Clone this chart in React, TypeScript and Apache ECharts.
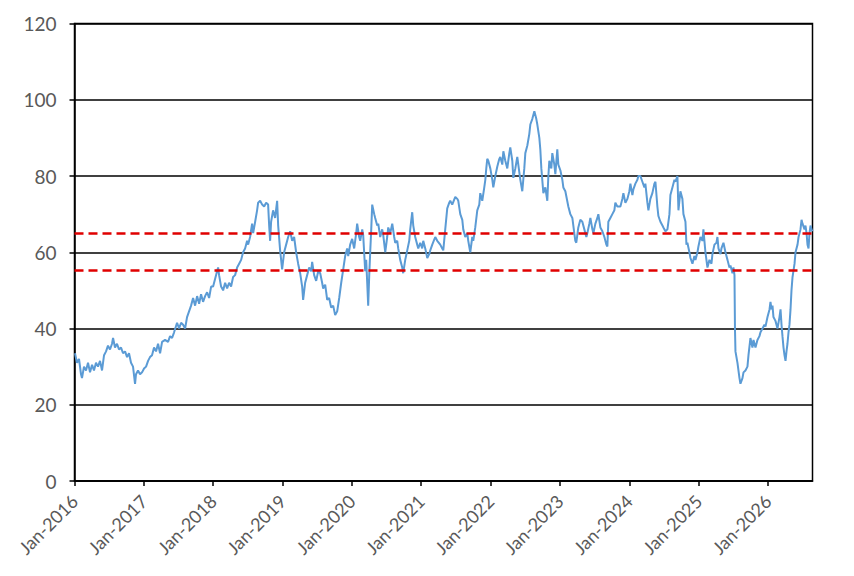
import React, { useEffect, useRef } from "react";
import * as echarts from "echarts";

// Decimal years (x) and index values (y)
const dates = [
  2016.007, 2016.036, 2016.065, 2016.094, 2016.108, 2016.137, 2016.166, 2016.195, 2016.224, 2016.253,
  2016.281, 2016.310, 2016.339, 2016.368, 2016.397, 2016.426, 2016.455, 2016.483, 2016.512, 2016.541,
  2016.556, 2016.584, 2016.613, 2016.642, 2016.671, 2016.700, 2016.729, 2016.758, 2016.786, 2016.815,
  2016.844, 2016.873, 2016.887, 2016.916, 2016.945, 2016.974,
  2017.003, 2017.032, 2017.061, 2017.089, 2017.118, 2017.147, 2017.176, 2017.205, 2017.234, 2017.263,
  2017.306, 2017.349, 2017.378, 2017.407, 2017.436, 2017.479, 2017.508, 2017.537, 2017.566, 2017.595,
  2017.623, 2017.652, 2017.681, 2017.710, 2017.739, 2017.768, 2017.797, 2017.825, 2017.854, 2017.883,
  2017.912, 2017.941, 2017.970, 2017.999,
  2018.027, 2018.056, 2018.071, 2018.085, 2018.114, 2018.143, 2018.172, 2018.201, 2018.229, 2018.258,
  2018.287, 2018.316, 2018.345, 2018.374, 2018.403, 2018.431, 2018.460, 2018.489, 2018.504, 2018.532,
  2018.561, 2018.576, 2018.605, 2018.633, 2018.648, 2018.677, 2018.706, 2018.735, 2018.763, 2018.792,
  2018.807, 2018.821, 2018.835, 2018.864, 2018.893, 2018.922, 2018.937, 2018.965, 2018.994,
  2019.023, 2019.052, 2019.081, 2019.110, 2019.139, 2019.167, 2019.196, 2019.225, 2019.254, 2019.283,
  2019.297, 2019.326, 2019.355, 2019.384, 2019.413, 2019.427, 2019.456, 2019.485, 2019.514, 2019.543,
  2019.571, 2019.586, 2019.615, 2019.644, 2019.672, 2019.701, 2019.730, 2019.759, 2019.788, 2019.817,
  2019.846, 2019.875, 2019.903, 2019.932, 2019.947, 2019.975,
  2020.004, 2020.033, 2020.062, 2020.076, 2020.105, 2020.120, 2020.149, 2020.163, 2020.192, 2020.206,
  2020.221, 2020.235, 2020.250, 2020.264, 2020.279, 2020.293, 2020.322, 2020.336, 2020.365, 2020.380,
  2020.408, 2020.437, 2020.452, 2020.481, 2020.509, 2020.524, 2020.553, 2020.582, 2020.610, 2020.625,
  2020.654, 2020.668, 2020.697, 2020.726, 2020.740, 2020.769, 2020.798, 2020.827, 2020.841, 2020.870,
  2020.885, 2020.913, 2020.942, 2020.957, 2020.986,
  2021.014, 2021.029, 2021.058, 2021.087, 2021.115, 2021.130, 2021.159, 2021.202, 2021.231, 2021.274,
  2021.303, 2021.318, 2021.346, 2021.375, 2021.404, 2021.418, 2021.447, 2021.491, 2021.520, 2021.534,
  2021.563, 2021.592, 2021.606, 2021.635, 2021.664, 2021.678, 2021.707, 2021.736, 2021.750, 2021.779,
  2021.808, 2021.837, 2021.851, 2021.880, 2021.909, 2021.924, 2021.938, 2021.952, 2021.967, 2021.996,
  2022.025, 2022.039, 2022.068, 2022.097, 2022.126, 2022.140, 2022.169, 2022.184, 2022.212, 2022.241,
  2022.270, 2022.284, 2022.313, 2022.328, 2022.357, 2022.385, 2022.414, 2022.429, 2022.457, 2022.486,
  2022.501, 2022.530, 2022.558, 2022.573, 2022.602, 2022.631, 2022.659, 2022.674, 2022.703, 2022.717,
  2022.732, 2022.761, 2022.789, 2022.818, 2022.833, 2022.847, 2022.876, 2022.890, 2022.919, 2022.934,
  2022.962, 2022.977,
  2023.006, 2023.035, 2023.049, 2023.078, 2023.121, 2023.150, 2023.179, 2023.207, 2023.222, 2023.236,
  2023.265, 2023.294, 2023.323, 2023.352, 2023.381, 2023.395, 2023.424, 2023.439, 2023.468, 2023.482,
  2023.511, 2023.540, 2023.554, 2023.583, 2023.612, 2023.641, 2023.669, 2023.684, 2023.698, 2023.727,
  2023.756, 2023.785, 2023.799, 2023.828, 2023.872, 2023.900, 2023.915, 2023.944, 2023.973,
  2024.001, 2024.016, 2024.045, 2024.059, 2024.088, 2024.117, 2024.131, 2024.160, 2024.189, 2024.218,
  2024.232, 2024.261, 2024.276, 2024.304, 2024.333, 2024.362, 2024.377, 2024.405, 2024.420, 2024.449,
  2024.478, 2024.492, 2024.521, 2024.550, 2024.579, 2024.593, 2024.622, 2024.651, 2024.665, 2024.694,
  2024.709, 2024.737, 2024.766, 2024.781, 2024.810, 2024.824, 2024.838, 2024.867, 2024.882, 2024.911,
  2024.939, 2024.954, 2024.983, 2024.997,
  2025.026, 2025.055, 2025.069, 2025.098, 2025.127, 2025.156, 2025.185, 2025.199, 2025.228, 2025.257,
  2025.271, 2025.286, 2025.315, 2025.329, 2025.358, 2025.387, 2025.416, 2025.444, 2025.459, 2025.488,
  2025.502, 2025.517, 2025.524, 2025.531, 2025.560, 2025.589, 2025.603, 2025.632, 2025.647, 2025.675,
  2025.704, 2025.719, 2025.747, 2025.776, 2025.791, 2025.820, 2025.848, 2025.877, 2025.892, 2025.921,
  2025.949, 2025.964, 2025.993,
  2026.022, 2026.036, 2026.051, 2026.065, 2026.079, 2026.108, 2026.137, 2026.166, 2026.181, 2026.195,
  2026.209, 2026.224, 2026.238, 2026.253, 2026.267, 2026.281, 2026.296, 2026.310, 2026.325, 2026.339,
  2026.354, 2026.383, 2026.397, 2026.426, 2026.441, 2026.469, 2026.484, 2026.498, 2026.527, 2026.541,
  2026.556, 2026.570, 2026.585, 2026.599, 2026.613, 2026.628, 2026.642,
];

const values = [
  33.5, 31, 32, 28, 27, 30, 29, 31, 28.5, 30.5,
  29, 31, 30, 31.5, 29, 33, 34, 35.5, 34.5, 36,
  37.5, 35, 36, 34.5, 35, 33.5, 34, 32.5, 33.5, 31,
  30, 25.5, 28, 29, 28, 28.5,
  29.5, 30, 31.5, 32.5, 33, 35, 34, 36, 33.5, 36.5,
  37, 36.5, 38, 37.5, 39, 41.5, 40, 41.5, 41, 40,
  43, 44.5, 46, 48, 46, 48.5, 46.5, 49, 47, 48.5,
  49.5, 48, 51, 51,
  53, 55, 56, 54, 51, 50, 52, 50.5, 52, 51,
  53.5, 54, 56, 57, 58, 60, 61, 63, 62, 64,
  67.5, 65, 68, 71, 73, 73.5, 72.5, 72, 73, 72.5,
  67, 63, 68, 71, 69, 73.5, 67, 60.5, 55.5,
  60, 62, 64, 65.5, 63, 64, 60, 57, 54.5, 51,
  47.5, 52, 54, 56, 55, 57.5, 54, 52.5, 55, 54.5,
  52, 50.5, 51.5, 47.5, 48, 45.5, 46, 43.5, 44.5, 48,
  52, 55.5, 59, 61, 59, 62,
  63.5, 61, 65, 67.5, 64, 63, 66, 64.5, 55, 58,
  52, 46, 54, 60, 66, 72.5, 70, 69, 67, 67.5,
  64, 66, 64.5, 60, 64, 66.5, 65, 67.5, 64, 62.5,
  63, 61, 58, 56, 54.5, 58, 60.5, 63, 66, 70.5,
  67, 64, 62, 61, 62.5,
  61, 63, 61, 58.5, 59.5, 60.5, 62, 64, 63, 62,
  61, 60.5, 66, 71.5, 73, 73.5, 72.5, 74.5, 74, 73.5,
  70, 68.5, 66, 64, 65, 63, 60, 64, 63, 66.5,
  71, 72.5, 75.5, 73.5, 77, 79, 82, 84.5, 84, 82,
  79, 77, 80, 82.5, 84.5, 85, 83, 86.5, 84, 82,
  86, 87.5, 84, 79.5, 82, 85, 81, 79, 76, 82,
  86, 88, 91, 93.5, 95, 97, 95, 93.5, 90, 87,
  82, 75.5, 77, 73.5, 80, 84, 82, 86, 83, 80.5,
  87, 83,
  81.5, 79, 77, 76, 72, 70, 69, 65, 63, 62.5,
  66.5, 68.5, 68, 66, 64, 65, 67.5, 69, 66, 65,
  67.5, 69, 70, 66.5, 65.5, 64, 62, 61.5, 68, 69,
  70, 71, 73, 72, 72, 74, 75.5, 73, 74,
  76, 78, 75, 76.5, 78, 79, 80, 80, 78.5, 77,
  78, 73, 71, 74, 75.5, 78, 78.5, 72, 69.5, 68,
  67, 66.5, 65.5, 66, 70, 75, 77, 79, 78.5, 80,
  71, 76, 74, 70, 68, 62, 62.5, 60, 58.5, 57,
  59, 58, 60, 61.5,
  64, 63, 66, 60, 56, 58, 57, 59.5, 62, 62.5,
  64, 61, 59.5, 61, 62.5, 60, 58, 56, 56.5, 54.5,
  56, 54, 40, 34, 31, 27, 25.5, 27, 28.5, 29,
  30, 33, 37.5, 35, 37, 35, 37, 38, 39, 40,
  41, 40.5, 43,
  45, 47, 45, 46, 43, 42, 40, 43, 45, 41,
  38, 35, 33, 31.5, 34, 36, 39, 41, 45, 50,
  53.5, 57, 60, 62, 64, 66, 68.5, 67.5, 66, 67,
  65, 62, 61, 65, 67, 66, 65.5,
];

const tickYears = [2016, 2017, 2018, 2019, 2020, 2021, 2022, 2023, 2024, 2025, 2026];
const limitLines = [65, 55.3];

const FONT = 'Lato, "Liberation Sans", sans-serif';

export default function App() {
  const ref = useRef<HTMLDivElement>(null);

  useEffect(() => {
    if (!ref.current) return;
    const chart = echarts.init(ref.current, null, { renderer: "svg" });
    const data = dates.map((d, i) => [d, values[i]]);
    chart.setOption({
      animation: false,
      backgroundColor: "#ffffff",
      grid: {
        left: 74.5,
        right: 41.5,
        top: 23.5,
        bottom: 95,
        show: true,
        borderColor: "#000000",
        borderWidth: 1.5,
        backgroundColor: "transparent",
        outerBoundsMode: "none",
      },
      xAxis: {
        type: "value",
        min: 2016,
        max: 2026.642,
        interval: 1,
        axisLine: { show: true, lineStyle: { color: "#000000", width: 1.5 } },
        axisTick: {
          show: true,
          length: 5,
          customValues: tickYears,
          lineStyle: { color: "#000000", width: 1.5 },
        },
        axisLabel: {
          customValues: tickYears,
          rotate: 45,
          margin: 17,
          color: "#595959",
          fontSize: 18,
          fontFamily: FONT,
          formatter: (v: number) => "Jan-" + Math.round(v),
        },
        splitLine: { show: false },
      },
      yAxis: {
        type: "value",
        min: 0,
        max: 120,
        interval: 20,
        axisLine: { show: true, lineStyle: { color: "#000000", width: 1.5 } },
        axisTick: { show: true, length: 5, lineStyle: { color: "#000000", width: 1.5 } },
        axisLabel: { color: "#595959", fontSize: 19, fontFamily: FONT, margin: 18 },
        splitLine: { show: true, lineStyle: { color: "#000000", width: 1.5 } },
      },
      series: [
        {
          type: "line",
          data,
          symbol: "none",
          showSymbol: false,
          lineStyle: { color: "#5b9bd5", width: 2 },
          z: 3,
          markLine: {
            silent: true,
            symbol: ["none", "none"],
            label: { show: false },
            lineStyle: { color: "#e00000", type: [9, 5], width: 2.5 },
            data: limitLines.map((v) => ({ yAxis: v })),
            z: 4,
          },
        },
      ],
    });
    return () => chart.dispose();
  }, []);

  return (
    <div
      ref={ref}
      style={{ position: "absolute", left: 0, top: 0, width: 854, height: 576, background: "#fff" }}
    />
  );
}
